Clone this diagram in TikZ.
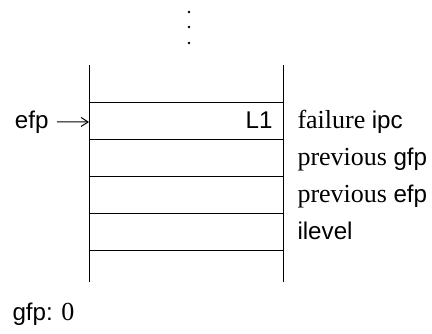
\documentclass[tikz,border=0pt]{standalone}
\usepackage{fontspec}
\setmainfont{Liberation Serif}
\setsansfont{Liberation Sans}[Scale=0.93]
\usetikzlibrary{arrows.meta}
\newcommand{\stkId}[1]{\textsf{#1}}

\begin{document}
\begin{tikzpicture}[x=0.5pt,y=-0.5pt,line width=0.5pt,
  every node/.style={font={\fontsize{13}{15}\selectfont}, inner sep=0pt},
  rowlabel/.style={anchor=base west}]
\useasboundingbox (0,0) rectangle (432,333);
% vertical ellipsis above the stack
\foreach \y in {12,27,43} \fill (189,\y) circle (1.4);
% stack walls and frame borders
\draw (89,65) -- (89,282);
\draw (283,65) -- (283,282);
\foreach \y in {102,139,176,213,250} \draw (89,\y) -- (283,\y);
% frame contents
\node[anchor=base east] (ipcval) at (273,128) {\stkId{L1}};
\node[rowlabel] (ipclab) at (297,128) {failure \stkId{ipc}};
\node[rowlabel] (gfplab) at (297,165) {previous \stkId{gfp}};
\node[rowlabel] (efplab) at (297,202) {previous \stkId{efp}};
\node[rowlabel] (lvllab) at (297,239) {\stkId{ilevel}};
% frame pointer
\node[anchor=base east] (efp) at (49,128) {\stkId{efp}};
\coordinate (efptip) at (89,122);
\draw[-{Straight Barb[length=3.5pt,width=4.5pt]}, shorten <=4pt] (efp.east) -- (efptip);
\node[anchor=base west] (gfp) at (12,320) {\stkId{gfp:} 0};
\end{tikzpicture}
\end{document}
